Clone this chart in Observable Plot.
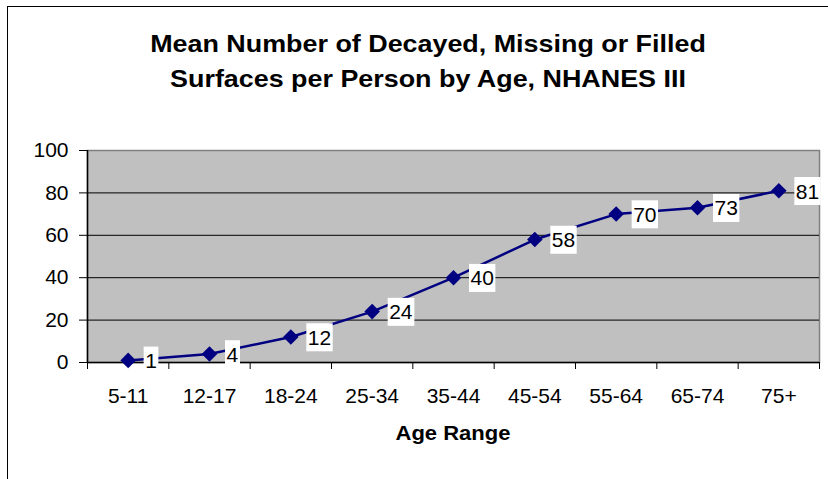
<!DOCTYPE html>
<html>
<head>
<meta charset="utf-8">
<script src="https://cdn.jsdelivr.net/npm/d3@7"></script>
<script src="https://cdn.jsdelivr.net/npm/@observablehq/plot@0.6"></script>
<style>
  html, body { margin: 0; padding: 0; background: #fff; width: 828px; height: 479px; overflow: hidden; }
  #wrap { position: relative; width: 828px; height: 479px; font-family: "Liberation Sans", Arial, sans-serif; }
  #border { position: absolute; left: 7px; top: 6px; width: 1000px; height: 1000px; border: 1px solid #000; box-sizing: border-box; }
  .title { position: absolute; left: 0; width: 856px; text-align: center; font-weight: bold; font-size: 24px; color: #000; white-space: nowrap; transform: scaleX(1.12); transform-origin: 428px 0; }
  #xlabel { position: absolute; left: 353px; width: 200px; text-align: center; top: 422px; font-weight: bold; font-size: 20px; transform: scaleX(1.1); transform-origin: 100px 0; }
  #chart { position: absolute; left: 0; top: 0; }
</style>
</head>
<body>
<div id="wrap">
  <div id="border"></div>
  <div class="title" style="top:30px">Mean Number of Decayed, Missing or Filled</div>
  <div class="title" style="top:65px">Surfaces per Person by Age, NHANES III</div>
  <div id="chart"></div>
  <div id="xlabel">Age Range</div>
</div>
<script>
const ages = ["5-11", "12-17", "18-24", "25-34", "35-44", "45-54", "55-64", "65-74", "75+"];
const dmfs = [1, 4, 12, 24, 40, 58, 70, 73, 81];
const yTicks = [0, 20, 40, 60, 80, 100];

const data = ages.map((age, i) => ({i, age, v: dmfs[i]}));
const bounds = d3.range(ages.length + 1).map(k => k - 0.5);

const font = "Liberation Sans, Arial, sans-serif";

const chart = Plot.plot({
  width: 828,
  height: 479,
  marginLeft: 87,
  marginRight: 9,
  marginTop: 150,
  marginBottom: 117,
  style: {background: "transparent", fontFamily: font, fontSize: "21px", color: "#000", overflow: "visible"},
  x: {domain: [-0.5, ages.length - 0.5]},
  y: {domain: [0, 100]},
  marks: [
    Plot.frame({fill: "#c0c0c0", stroke: "#808080", strokeWidth: 1.5}),
    Plot.gridY(yTicks.slice(1, -1), {stroke: "#000", strokeOpacity: 1, strokeWidth: 1}),
    Plot.ruleX([-0.5], {stroke: "#000", strokeWidth: 1.5}),
    Plot.ruleY([0], {stroke: "#000", strokeWidth: 1.5}),
    Plot.axisY(yTicks, {tickSize: 8, tickPadding: 11, fontSize: 21, stroke: "#000", strokeOpacity: 1, label: null}),
    Plot.axisX(bounds, {tickSize: 7, tickFormat: () => "", stroke: "#000", strokeOpacity: 1, label: null}),
    Plot.axisX(d3.range(ages.length), {tickSize: 0, tickPadding: 26, fontSize: 21, tickFormat: i => ages[i], label: null}),
    Plot.line(data, {x: "i", y: "v", stroke: "#000080", strokeWidth: 2.5}),
    Plot.dot(data, {x: "i", y: "v", symbol: "diamond2", r: 7, fill: "#000080", stroke: "none"}),
    Plot.text(data, {x: "i", y: "v", text: d => String(d.v), dx: 17, dy: 1, textAnchor: "start", fontSize: 21, fill: "#000", className: "dlabel"})
  ]
});
document.getElementById("chart").appendChild(chart);

// white boxes behind data labels
chart.querySelectorAll(".dlabel text").forEach(t => {
  const b = t.getBBox();
  const r = document.createElementNS("http://www.w3.org/2000/svg", "rect");
  r.setAttribute("x", b.x - 1.5);
  r.setAttribute("y", b.y - 2.5);
  r.setAttribute("width", b.width + 3);
  r.setAttribute("height", b.height + 5);
  r.setAttribute("fill", "#fff");
  const tr = t.getAttribute("transform");
  if (tr) r.setAttribute("transform", tr);
  t.parentNode.insertBefore(r, t);
});
</script>
</body>
</html>
